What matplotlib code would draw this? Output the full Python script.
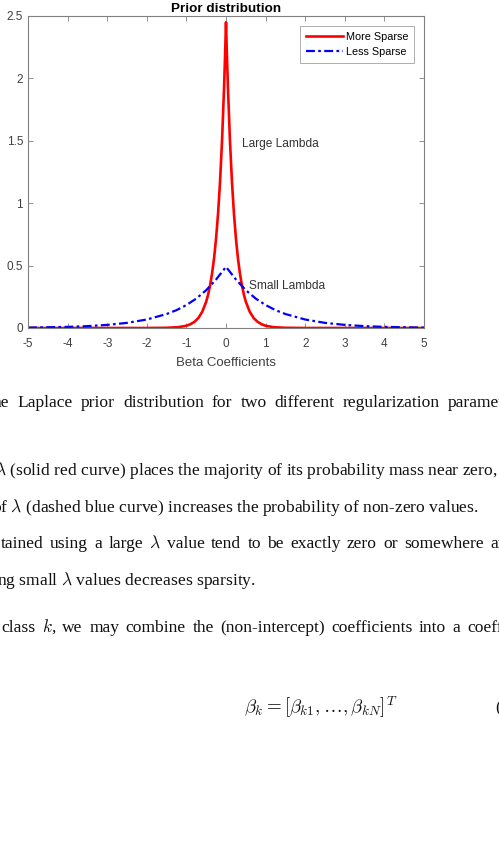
import matplotlib
matplotlib.use("Agg")
import matplotlib.pyplot as plt

plt.rcParams['mathtext.fontset'] = 'cm'

# large lambda curve
x_large = [-5, -2, -1.5, -1.2, -1.0, -0.9, -0.8, -0.7, -0.6, -0.5, -0.45, -0.4, -0.35, -0.3,
           -0.25, -0.2, -0.15, -0.1, -0.05, -0.025, 0,
           0.025, 0.05, 0.1, 0.15, 0.2, 0.25, 0.3, 0.35, 0.4, 0.45, 0.5, 0.6, 0.7, 0.8, 0.9,
           1.0, 1.2, 1.5, 2, 5]
y_large = [0.0, 0.0001, 0.0016, 0.0068, 0.018, 0.030, 0.049, 0.079, 0.130, 0.211, 0.270, 0.345,
           0.441, 0.563, 0.720, 0.919, 1.175, 1.50, 1.918, 2.168, 2.45,
           2.168, 1.918, 1.50, 1.175, 0.919, 0.720, 0.563, 0.441, 0.345, 0.270, 0.211, 0.130,
           0.079, 0.049, 0.030, 0.018, 0.0068, 0.0016, 0.0001, 0.0]

# small lambda curve
x_small = [-5, -4.5, -4, -3.5, -3, -2.5, -2, -1.5, -1.25, -1, -0.75, -0.5, -0.25, 0,
           0.25, 0.5, 0.75, 1, 1.25, 1.5, 2, 2.5, 3, 3.5, 4, 4.5, 5]
y_small = [0.003, 0.006, 0.009, 0.015, 0.025, 0.041, 0.068, 0.112, 0.143, 0.184, 0.236, 0.303,
           0.389, 0.49, 0.389, 0.303, 0.236, 0.184, 0.143, 0.112, 0.068, 0.041, 0.025, 0.015,
           0.009, 0.006, 0.003]

x_ticks = [-5, -4, -3, -2, -1, 0, 1, 2, 3, 4, 5]
y_ticks = [0, 0.5, 1, 1.5, 2, 2.5]
y_ticklabels = ['0', '0.5', '1', '1.5', '2', '2.5']

W, H = 499, 858
fig = plt.figure(figsize=(W / 100, H / 100), dpi=100)
ax = fig.add_axes([28 / W, 1 - 328 / H, 396 / W, 312 / H])

ax.plot(x_large, y_large, color='#ff0000', lw=1.9, label='More Sparse')
ax.plot(x_small, y_small, color='#0000ff', lw=1.6, ls=(0, (4, 1.5, 1.2, 1.5)), label='Less Sparse')

ax.set_xlim(-5, 5)
ax.set_ylim(0, 2.5)
ax.set_xticks(x_ticks)
ax.set_xticklabels([str(t) for t in x_ticks])
ax.set_yticks(y_ticks)
ax.set_yticklabels(y_ticklabels)
ax.tick_params(direction='in', length=3.5, width=0.6, colors='#808080', labelcolor='#404040',
               labelsize=8.5, top=True, right=True, pad=3.5)
ax.tick_params(axis='x', pad=7)
for s in ax.spines.values():
    s.set_color('#808080')
    s.set_linewidth(0.8)

ax.set_title('Prior distribution', fontsize=9.7, fontweight='bold', pad=3, family='Liberation Sans')
ax.set_xlabel('Beta Coefficients', fontsize=9.5, color='#404040', labelpad=5, family='Liberation Sans')
ax.text(0.4, 1.45, 'Large Lambda', fontsize=8.6, color='#333333', family='Liberation Sans')
ax.text(0.58, 0.31, 'Small Lambda', fontsize=8.6, color='#333333', family='Liberation Sans')

leg = ax.legend(loc='upper right', frameon=True, fancybox=False, handlelength=3.4,
                borderpad=0.55, labelspacing=0.5, handletextpad=0.3, borderaxespad=0.9,
                prop={'family': 'Liberation Sans', 'size': 7.8})
leg.get_frame().set_edgecolor('#999999')
leg.get_frame().set_linewidth(0.7)

for t in ax.get_xticklabels() + ax.get_yticklabels():
    t.set_family('Liberation Sans')

# document text below the figure
serif = dict(family='Liberation Serif', fontsize=12.6, color='#111111', va='baseline')
renderer = fig.canvas.get_renderer()


def justified(words, x0, x_last, y):
    # spread words so the first starts at x0 and the last starts at x_last (pixels)
    arts = [fig.text(0, 1 - y / H, w, **serif) for w in words]
    widths = [a.get_window_extent(renderer).width for a in arts]
    gap = (x_last - x0 - sum(widths[:-1])) / (len(words) - 1)
    x = x0
    for a, w in zip(arts, widths):
        a.set_x(x / W)
        x += w + gap


justified('he Laplace prior distribution for two different regularization parameters'.split(),
          -7, 448, 407)
fig.text(-5 / W, 1 - 475 / H, r'$\lambda$ (solid red curve) places the majority of its probability mass near zero,', **serif)
fig.text(-8 / W, 1 - 512 / H, r'of $\lambda$ (dashed blue curve) increases the probability of non-zero values.', **serif)
justified(r'tained using a large $\lambda$ value tend to be exactly zero or somewhere around'.split(),
          1, 490, 548)
fig.text(-3 / W, 1 - 585 / H, r'ng small $\lambda$ values decreases sparsity.', **serif)
justified(r'class $k$, we may combine the (non-intercept) coefficients into a coefficient'.split(),
          1, 467, 632)
fig.text(244 / W, 1 - 712 / H, r'$\beta_k = [\beta_{k1}, \ldots, \beta_{kN}]^T$', family='Liberation Serif',
         fontsize=13.6, color='#111111', va='baseline')
fig.text(495 / W, 1 - 712 / H, '(', **serif)

fig.savefig('out.png', dpi=100)
